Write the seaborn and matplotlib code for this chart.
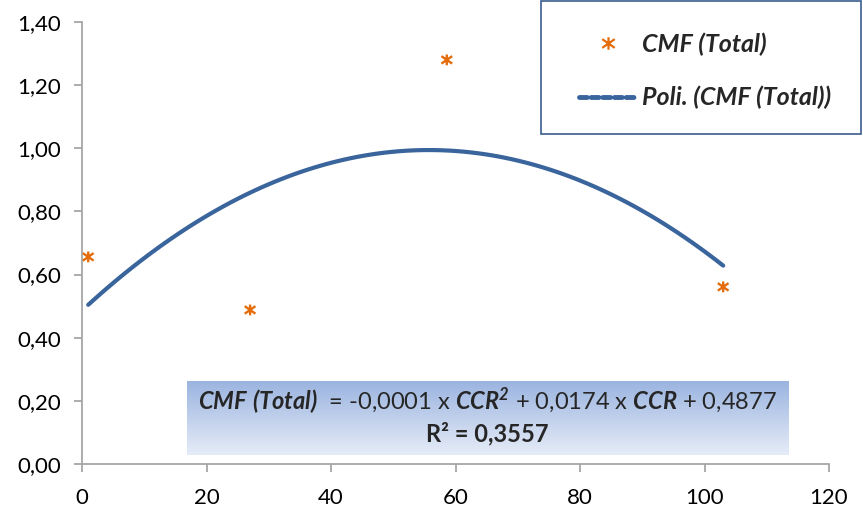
import numpy as np
import pandas as pd
import matplotlib
matplotlib.use('Agg')
import matplotlib.pyplot as plt
import seaborn as sns
from matplotlib.lines import Line2D
from matplotlib.patches import Rectangle
from matplotlib.path import Path
from matplotlib.ticker import FuncFormatter

# values
ccr = [1.0, 27.0, 58.6, 103.0]
cmf = [0.656, 0.488, 1.280, 0.561]
x_ticks = [0, 20, 40, 60, 80, 100, 120]
y_ticks = [0.0, 0.2, 0.4, 0.6, 0.8, 1.0, 1.2, 1.4]
series_label = 'CMF (Total)'
trend_label = 'Poli. (CMF (Total))'
eq_line = (r'$\mathbfit{CMF\ (Total)}$  = -0,0001 x $\mathbfit{CCR^2}$'
           r' + 0,0174 x $\mathbfit{CCR}$ + 0,4877')
r2_line = 'R² = 0,3557'

orange = '#E46C0A'
blue = '#3A649C'
gray = '#A6A6A6'

# excel style marker: an x with a vertical bar through it
star_x = Path([(-1, -0.7), (1, 0.7), (-1, 0.7), (1, -0.7), (0, -1), (0, 1)],
              [Path.MOVETO, Path.LINETO, Path.MOVETO, Path.LINETO, Path.MOVETO, Path.LINETO])

sns.set_style('white')
plt.rcParams['font.family'] = ['Lato', 'DejaVu Sans']
plt.rcParams['mathtext.fontset'] = 'custom'
plt.rcParams['mathtext.rm'] = 'Lato'
plt.rcParams['mathtext.it'] = 'Lato:italic'
plt.rcParams['mathtext.bf'] = 'Lato:bold'
plt.rcParams['mathtext.bfit'] = 'Lato:italic:bold'

df = pd.DataFrame({'CCR': ccr, 'CMF': cmf})

fig = plt.figure(figsize=(8.63, 5.15), dpi=100)
ax = fig.add_axes([82 / 863, 51 / 515, 747 / 863, 442 / 515])

# 2nd order polynomial trend line
sns.regplot(data=df, x='CCR', y='CMF', order=2, ci=None, scatter=False, truncate=True,
            line_kws=dict(color=blue, lw=3.0, solid_capstyle='round'), ax=ax)
sns.scatterplot(data=df, x='CCR', y='CMF', marker=star_x, s=60, color=orange,
                edgecolor=orange, facecolor='none', linewidth=1.7, ax=ax, zorder=3)

ax.set_xlim(0, 120)
ax.set_ylim(0, 1.4)
ax.set_xticks(x_ticks)
ax.set_yticks(y_ticks)
ax.yaxis.set_major_formatter(FuncFormatter(lambda v, p: f'{v:.2f}'.replace('.', ',')))
ax.set_xlabel('')
ax.set_ylabel('')
for side in ['top', 'right']:
    ax.spines[side].set_visible(False)
for side in ['left', 'bottom']:
    ax.spines[side].set_color(gray)
    ax.spines[side].set_linewidth(1.3)
ax.tick_params(axis='both', direction='out', length=6, width=1.3, color=gray,
               labelsize=16, labelcolor='black')
ax.tick_params(axis='x', pad=11, bottom=True)
ax.tick_params(axis='y', pad=9, left=True)

# legend in a framed box at the top right
fig.patches.append(Rectangle((541 / 863, 381 / 515), 320 / 863, 133 / 515,
                             transform=fig.transFigure, facecolor='white',
                             edgecolor='#3B5E91', linewidth=1.2, zorder=5))
handles = [
    Line2D([], [], linestyle='none', marker=star_x, markersize=9,
           markeredgewidth=1.6, color=orange),
    Line2D([], [], color=blue, lw=3.5, linestyle=(0, (1.6, 0.8)),
           dash_capstyle='round'),
]
leg = fig.legend(handles, [series_label, trend_label], loc='center',
                 bbox_to_anchor=(705 / 863, 1 - 71 / 515), frameon=False,
                 prop=dict(size=18, weight='bold', style='italic'),
                 labelspacing=1.2, handlelength=2.3, handletextpad=0.2)
leg.set_zorder(6)

# equation box with vertical gradient
eq_ax = fig.add_axes([187 / 863, 60 / 515, 601 / 863, 74 / 515])
grad = np.linspace(0, 1, 100).reshape(-1, 1)
eq_ax.imshow(grad, aspect='auto', cmap=matplotlib.colors.LinearSegmentedColormap.from_list(
    'g', ['#9BB4E0', '#E6ECF7']), extent=(0, 1, 0, 1), origin='upper')
eq_ax.set_axis_off()
fig.text(487 / 863, 1 - 401 / 515, eq_line, ha='center', va='center', fontsize=17)
fig.text(487 / 863, 1 - 434 / 515, r2_line, ha='center', va='center', fontsize=17,
         fontweight='bold')

fig.savefig('out.png', dpi=100)
